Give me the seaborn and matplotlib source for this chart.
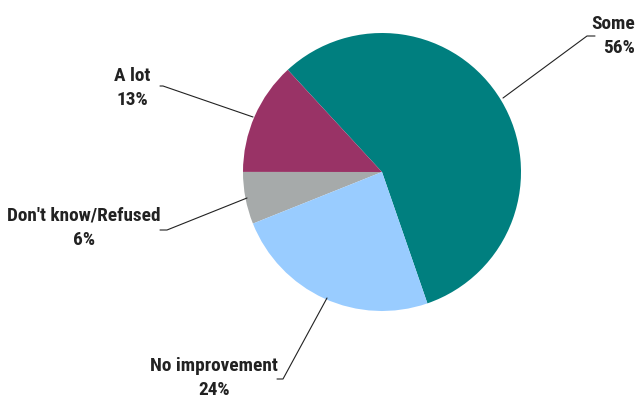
import matplotlib
matplotlib.use("Agg")
import matplotlib.pyplot as plt
import seaborn as sns

sns.set_theme(style="white")
plt.rcParams['font.family'] = ['Roboto Condensed', 'Liberation Sans Narrow', 'DejaVu Sans']
plt.rcParams['font.stretch'] = 'condensed'

categories = ["Some", "A lot", "Don't know/Refused", "No improvement"]
values = [56, 13, 6, 24]
colors = ["#007F7F", "#993366", "#A6AAAA", "#99CCFF"]

W, H = 637, 405
fig = plt.figure(figsize=(W / 100, H / 100), dpi=100)
ax = fig.add_axes([0, 0, 1, 1])

cx, cy, r = 382, H - 172, 139
total = sum(values)
start = 132.7 - 360 * values[0] / total
ax.pie(values, colors=colors, center=(cx, cy), radius=r, startangle=start,
       counterclock=True, wedgeprops=dict(linewidth=0), frame=True)
ax.set_xlim(0, W)
ax.set_ylim(0, H)
ax.set_aspect("equal")
ax.axis("off")

# size the labels so the widest one spans about 152 px
fig.canvas.draw()
renderer = fig.canvas.get_renderer()
probe = ax.text(0, 0, categories[2], fontsize=15, fontweight="bold")
wpx = probe.get_window_extent(renderer).width
probe.remove()
fs = min(19, 15 * 154 / wpx)

labels = [
    dict(i=0, xy=(503, 98), elbow=(587, 36), tail=(595, 36), tx=635, ty=36, ha="right"),
    dict(i=1, xy=(253, 117), elbow=(163, 86), tail=(160, 86), tx=132, ty=88, ha="center"),
    dict(i=2, xy=(247, 198), elbow=(167, 230), tail=(160, 230), tx=84, ty=228, ha="center"),
    dict(i=3, xy=(327, 298), elbow=(283, 379), tail=(277, 379), tx=214, ty=378, ha="center"),
]
for lb in labels:
    i = lb["i"]
    xs = [lb["xy"][0], lb["elbow"][0], lb["tail"][0]]
    ys = [H - lb["xy"][1], H - lb["elbow"][1], H - lb["tail"][1]]
    ax.plot(xs, ys, color="#222222", lw=0.8)
    ax.text(lb["tx"], H - lb["ty"], f"{categories[i]}\n{values[i]}%", ha=lb["ha"], va="center",
            fontsize=fs, fontweight="bold", color="#222222",
            linespacing=28 / (fs * 100 / 72), multialignment=lb["ha"])

fig.savefig("out.png", dpi=100)
